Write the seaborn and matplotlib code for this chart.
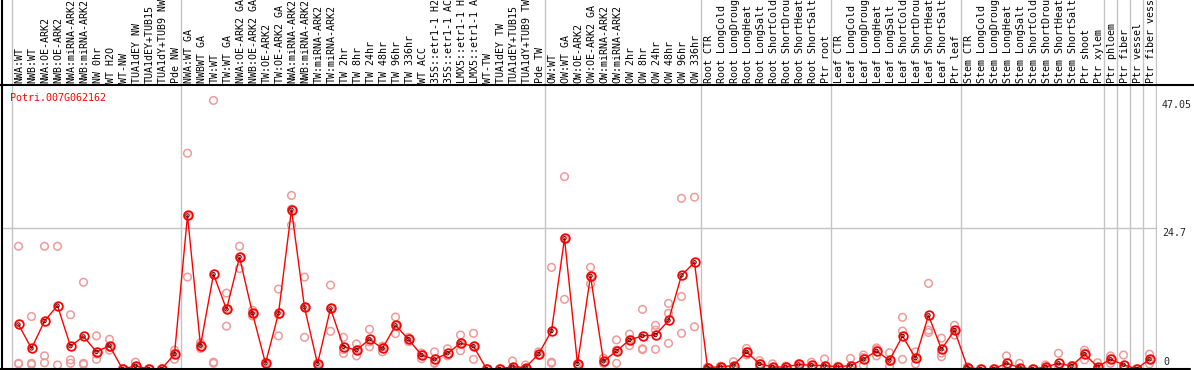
import numpy as np
import pandas as pd
import matplotlib
matplotlib.use("Agg")
import matplotlib.pyplot as plt
import seaborn as sns
from matplotlib.lines import Line2D

# ---------------- data ----------------
categories = [
    "NWA:WT", "NWB:WT", "NWA:OE-ARK2", "NWB:OE-ARK2", "NWA:miRNA-ARK2", "NWB:miRNA-ARK2",
    "NW 0hr", "WT H2O", "WT-NW", "TUA1dEY NW", "TUA1dEY+TUB15", "TUA1dY+TUB9 NW", "Pde NW",
    "NWA:WT GA", "NWBWT GA", "TW:WT", "TW:WT GA", "NWA:OE-ARK2 GA", "NWB:OE-ARK2 GA",
    "TW:OE-ARK2", "TW:OE-ARK2 GA", "NWA:miRNA-ARK2", "NWB:miRNA-ARK2", "TW:miRNA-ARK2",
    "TW:miRNA-ARK2", "TW 2hr", "TW 8hr", "TW 24hr", "TW 48hr", "TW 96hr", "TW 336hr",
    "WT ACC", "35S::etr1-1 H2", "35S::etr1-1 AC", "LMX5::etr1-1 H", "LMX5::etr1-1 A",
    "WT-TW", "TUA1dEY TW", "TUA1dEY+TUB15", "TUA1dY+TUB9 TW", "Pde TW",
    "OW:WT", "OW:WT GA", "OW:OE-ARK2", "OW:OE-ARK2 GA", "OW:miRNA-ARK2", "OW:miRNA-ARK2",
    "OW 2hr", "OW 8hr", "OW 24hr", "OW 48hr", "OW 96hr", "OW 336hr",
    "Root CTR", "Root LongCold", "Root LongDroug", "Root LongHeat", "Root LongSalt",
    "Root ShortCold", "Root ShortDrou", "Root ShortHeat", "Root ShortSalt", "Ptr root",
    "Leaf CTR", "Leaf LongCold", "Leaf LongDroug", "Leaf LongHeat", "Leaf LongSalt",
    "Leaf ShortCold", "Leaf ShortDrou", "Leaf ShortHeat", "Leaf ShortSalt", "Ptr leaf",
    "Stem CTR", "Stem LongCold", "Stem LongDroug", "Stem LongHeat", "Stem LongSalt",
    "Stem ShortCold", "Stem ShortDrou", "Stem ShortHeat", "Stem ShortSalt", "Ptr shoot",
    "Ptr xylem", "Ptr phloem", "Ptr fiber", "Ptr vessel", "Ptr fiber vess",
]

means = [
    7.8, 3.6, 8.4, 11.1, 4.0, 5.7, 3.0, 4.1, 0.0, 0.55, 0.0, 0.0, 2.6,
    26.9, 4.1, 16.6, 10.45, 19.6, 9.75, 1.0, 9.75, 27.9, 10.8, 0.9, 10.6, 3.9, 3.3,
    5.2, 3.6, 7.65, 5.2, 2.45, 1.7, 2.75, 4.5, 4.0, 0.0, 0.0, 0.4, 0.25, 2.6,
    6.65, 22.9, 0.9, 16.3, 1.35, 3.15, 5.1, 5.8, 5.95, 8.5, 16.4, 18.7,
    0.25, 0.4, 0.6, 3.0, 0.9, 0.35, 0.35, 0.8, 0.65, 0.6,
    0.4, 0.6, 1.7, 3.15, 1.5, 5.8, 1.9, 9.4, 3.45, 6.8,
    0.25, 0.0, 0.0, 1.0, 0.25, 0.0, 0.35, 1.0, 0.5, 2.6, 0.4,
    1.7, 0.75, 0.0, 1.7,
]

replicates = [
    [21.5, 1.0, 0.9], [9.2, 1.0, 0.8], [21.5, 2.3, 1.1], [21.5, 0.7], [9.5, 1.6, 1.0],
    [15.2, 1.0, 0.8], [5.8, 1.7, 2.6], [5.2, 3.3, 3.8], [0, 0, 0], [1.2, 0.5, 0],
    [0, 0, 0], [0, 0, 0], [3.3, 1.7, 2.7],
    [37.8, 26.8, 16.1], [4.6, 3.6, 4.2], [47.05, 1.2, 1.0], [13.3, 7.5, 10.5],
    [21.5, 17.6, 19.6], [10.3, 9.3, 9.7], [1.0, 1.1, 0.9], [14.0, 5.8, 9.5],
    [30.4, 25.2, 28.0], [16.1, 5.55, 10.8], [0.9, 1.0, 0.8], [14.7, 6.6, 10.6],
    [5.55, 2.75, 3.4], [4.4, 2.3, 3.3], [6.95, 3.9, 4.75], [4.0, 3.0, 3.85],
    [9.1, 6.2, 7.65], [5.55, 4.8, 5.2], [2.8, 1.8, 2.45], [3.0, 1.0, 1.1],
    [3.55, 2.3, 2.4], [5.95, 3.2, 4.4], [6.25, 1.7, 4.0], [0, 0, 0], [0, 0, 0],
    [1.4, 0, 0], [0.7, 0, 0], [3.0, 2.45, 2.4],
    [17.8, 1.0, 1.2], [33.7, 12.2, 22.8], [0.9, 0.9, 0.8], [17.8, 14.9, 16.2],
    [1.9, 1.0, 1.2], [5.1, 1.0, 3.3], [6.1, 4.1, 5.1], [10.45, 3.55, 3.4],
    [7.65, 6.8, 3.45], [11.5, 9.75, 4.5], [29.9, 12.7, 6.25], [30.1, 7.4],
    [0.3, 0.2, 0.2], [0.5, 0.4, 0.3], [1.3, 0.3, 0.2], [3.6, 2.45, 3.0],
    [1.45, 0.4, 0.9], [0.9, 0.1, 0.0], [0.5, 0.3, 0.2], [0.7, 0.9, 0.8],
    [1.2, 0.4, 0.3], [1.75, 0.1, 0.0],
    [0.5, 0.4, 0.3], [1.85, 0.0, 0.0], [2.45, 0.6, 2.0], [3.7, 2.3, 3.4],
    [2.85, 0.4, 1.3], [9.05, 6.65, 1.7], [3.0, 0.9, 1.9], [15.0, 6.8, 6.4],
    [5.4, 2.15, 2.8], [7.65, 5.95, 6.8],
    [0.4, 0.1, 0.2], [0, 0, 0], [0, 0, 0], [2.3, 0.4, 0.3], [1.0, 0, 0], [0, 0, 0],
    [0.7, 0.2, 0.1], [2.75, 0.2, 0.1], [0.6, 0.5, 0.4], [3.3, 1.6, 2.8], [1.1, 0.1, 0.0],
    [2.3, 1.0, 1.8], [2.45, 0, 0], [0, 0, 0], [2.6, 0.9, 1.6],
]

group_sizes = [13, 28, 12, 10, 10, 11, 1, 1, 1, 1]
gene_name = "Potri.007G062162"
y_marks = [47.05, 24.7, 0]
y_mark_labels = ["47.05", "24.7", "0"]

# ---------------- layout ----------------
W, H = 1194, 370
PX = 5.708            # pixels per unit on y
COL0, COLW = 18.5, 13  # pixel x of first column centre, column width
LEFT_PX, RIGHT_PX = 1.0, 1156.5
TOP_LINE_PX = 85

sns.set_theme(style="white")
plt.rcParams["font.family"] = ["DejaVu Sans Mono", "DejaVu Sans"]
FS = 7.2

fig = plt.figure(figsize=(W / 100, H / 100), dpi=100)
ax = fig.add_axes([LEFT_PX / W, 1 / H, (RIGHT_PX - LEFT_PX) / W, 369 / H])
xmin = (LEFT_PX - COL0) / COLW
xmax = (RIGHT_PX - COL0) / COLW
ax.set_xlim(xmin, xmax)
ax.set_ylim(0, 369 / PX)
ax.set_xticks([])
ax.set_yticks([])
for s in ax.spines.values():
    s.set_visible(False)
ax.patch.set_alpha(0)

def yval(px):
    return (369 - px) / PX

# group separators
bounds = np.cumsum([0] + group_sizes) - 0.5
for b in bounds:
    ax.axvline(b, color="#c4c4c4", lw=1.0, zorder=0)

# grid line
ax.hlines(24.7, xmin, xmax, color="#c4c4c4", lw=1.0, zorder=0)

# frame lines
fig.add_artist(Line2D([0, 1], [(H - TOP_LINE_PX) / H] * 2, color="black", lw=1.5))
fig.add_artist(Line2D([0, 1190 / W], [1.2 / H] * 2, color="black", lw=1.5))
fig.add_artist(Line2D([1.5 / W] * 2, [0, 1], color="black", lw=1.5))

# data frames
pos = np.arange(len(categories))
df_mean = pd.DataFrame({"pos": pos, "value": means, "cat": categories})
rows = [(i, v) for i, reps in enumerate(replicates) for v in reps]
df_rep = pd.DataFrame(rows, columns=["pos", "value"])

sns.scatterplot(data=df_rep, x="pos", y="value", ax=ax, marker="o", s=30,
                facecolor="none", edgecolor="#ef9a9a", linewidth=1.1, zorder=2,
                legend=False)
sns.lineplot(data=df_mean, x="pos", y="value", ax=ax, color="#ff0000", lw=1.0,
             marker="o", markersize=6.2, markerfacecolor="none",
             markeredgecolor="#ff0000", markeredgewidth=1.3, zorder=4,
             estimator=None, sort=False, legend=False)
sns.scatterplot(data=df_mean, x="pos", y="value", ax=ax, marker="o", s=6,
                facecolor="none", edgecolor="#400000", linewidth=0.7, zorder=5,
                legend=False)
ax.set_xlabel("")
ax.set_ylabel("")

# column labels
for i, lab in enumerate(categories):
    ax.text(i + 0.1, yval(83), lab, rotation=90, ha="center", va="bottom",
            fontsize=FS, color="black", clip_on=False)

# gene label
ax.text((9.5 - COL0) / COLW, yval(101), gene_name, color="#ff0000", fontsize=FS,
        ha="left", va="baseline", clip_on=False)

# right-side value labels
for v, lab in zip(y_marks, y_mark_labels):
    if v == 0:
        ax.text((1163 - COL0) / COLW, v + 0.3, lab, fontsize=FS, ha="left",
                va="bottom", clip_on=False)
    else:
        ax.text((1162 - COL0) / COLW, v, lab, fontsize=FS, ha="left",
                va="top", clip_on=False)

fig.savefig("out.png", dpi=100)
